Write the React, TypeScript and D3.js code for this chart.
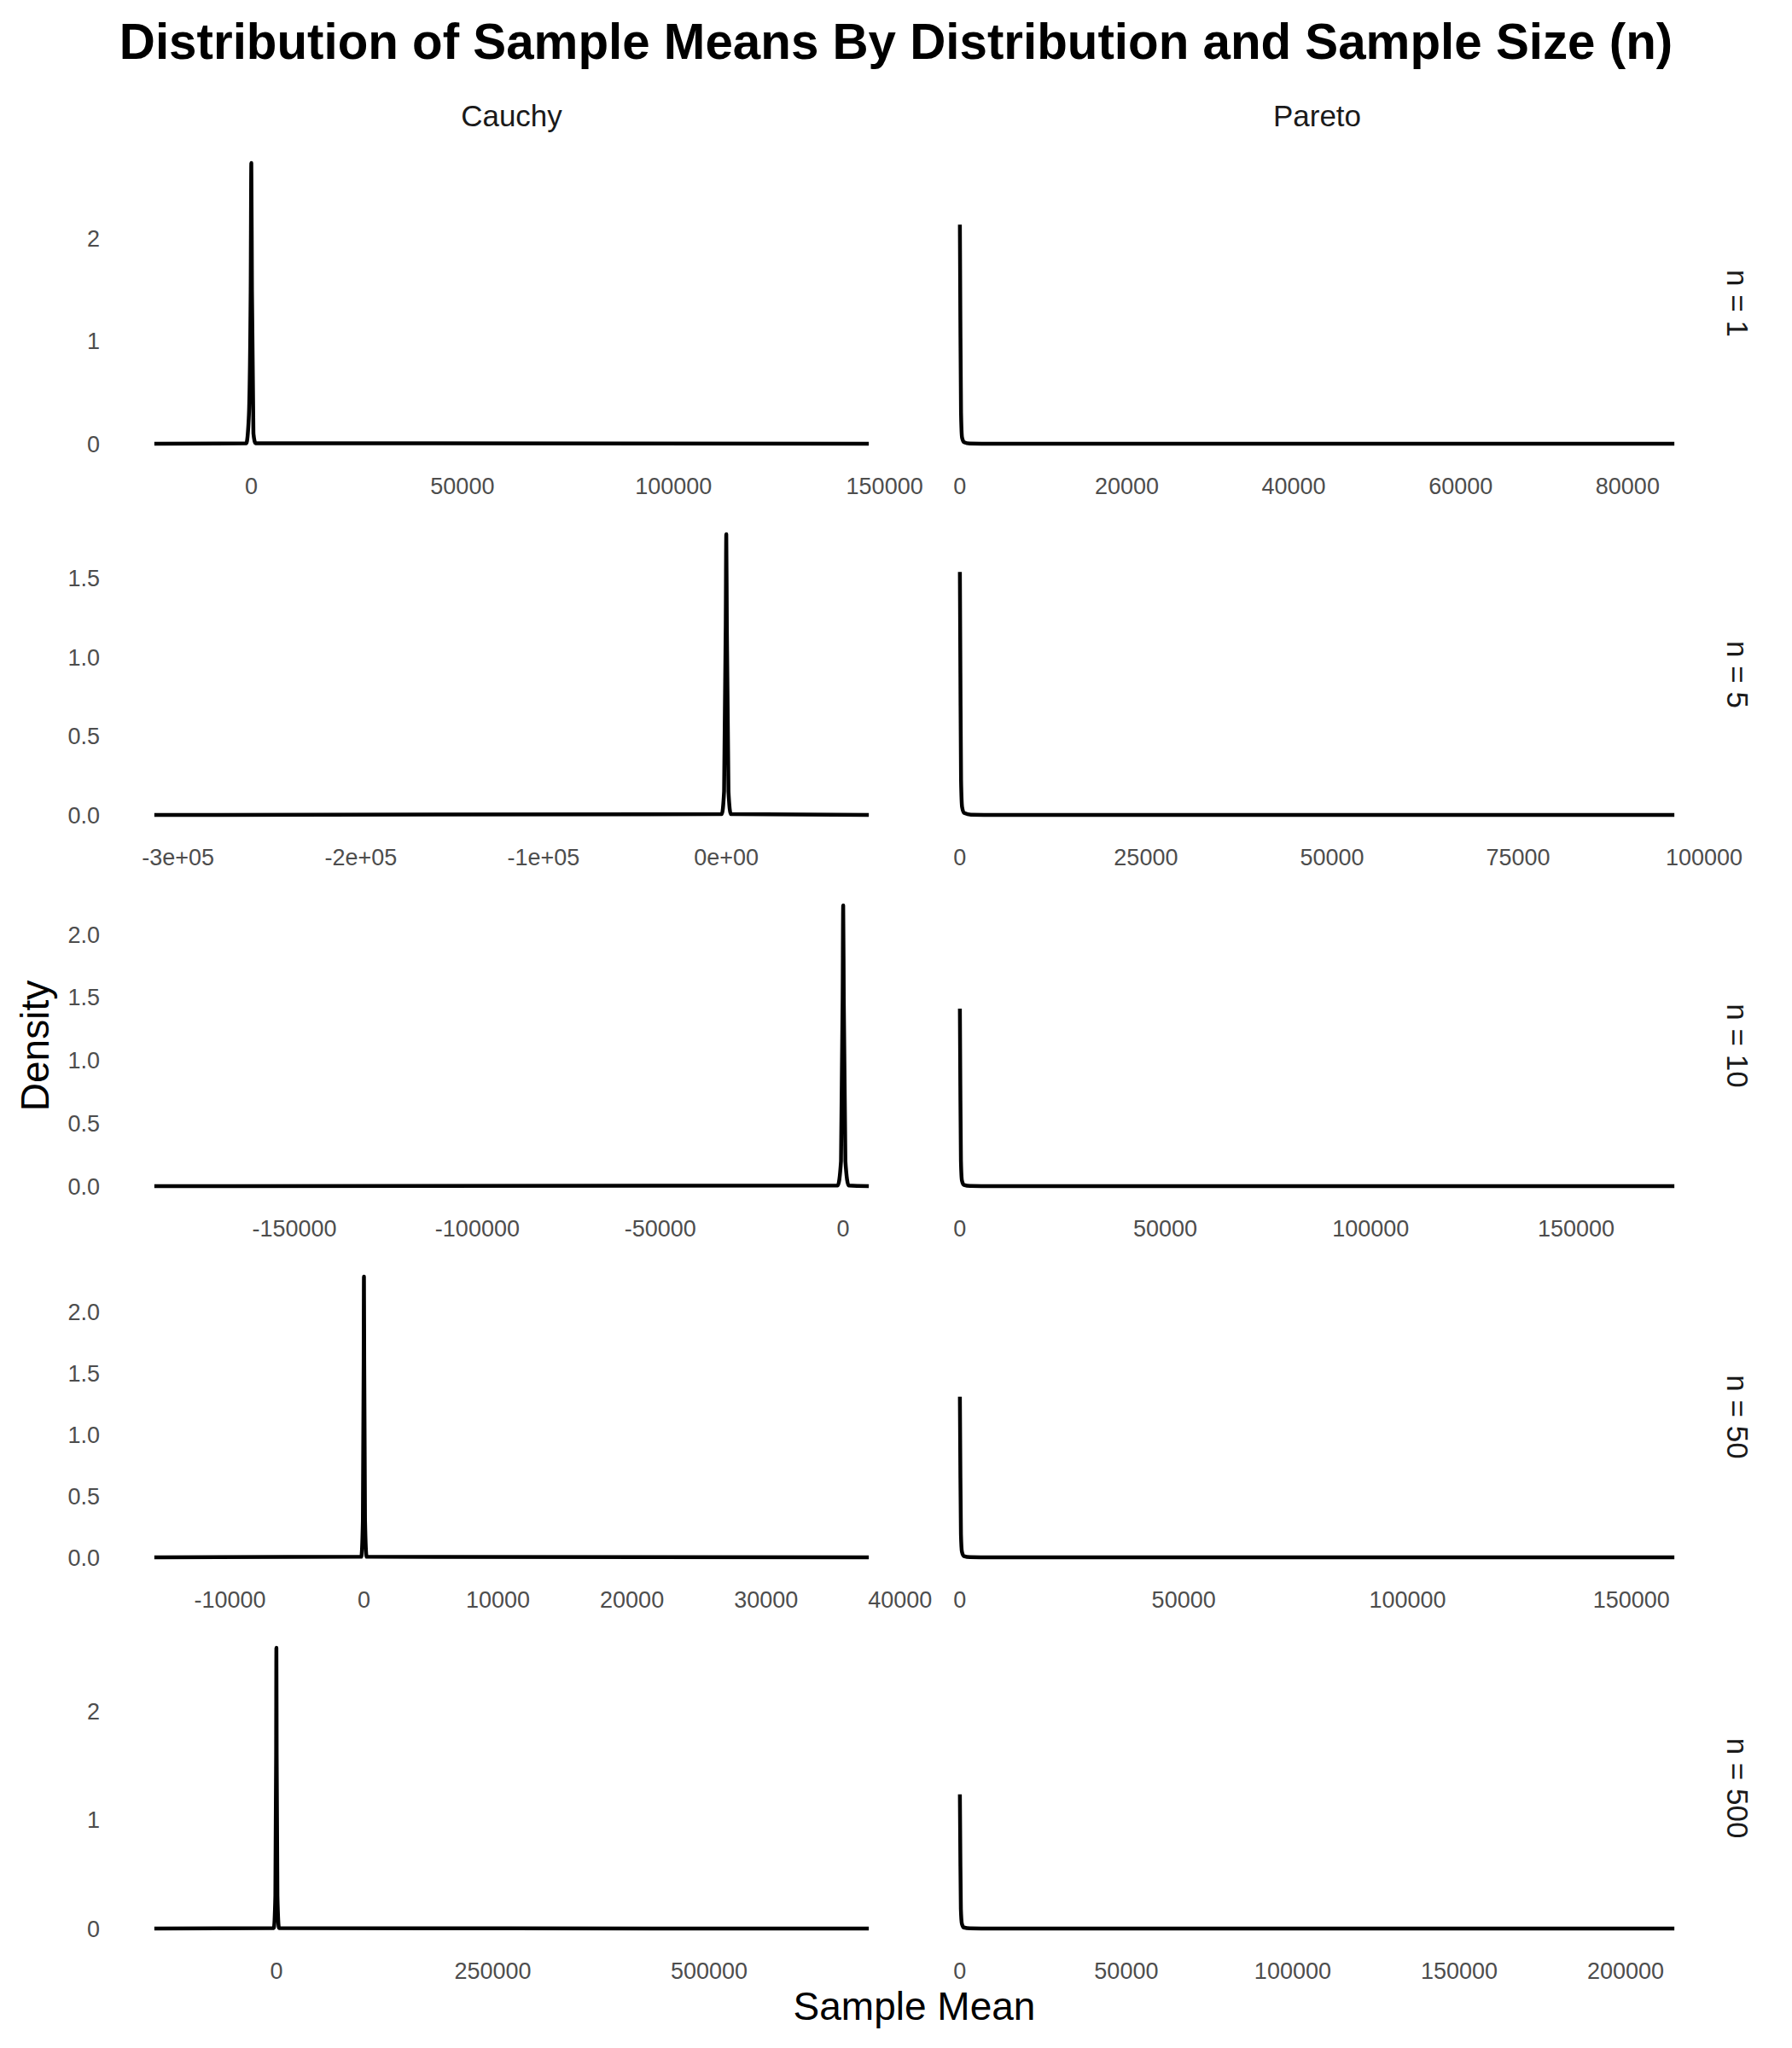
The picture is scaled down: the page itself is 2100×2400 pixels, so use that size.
import React from "react";
import * as d3 from "d3";

// ---------- data ----------
const distributions = ["Cauchy", "Pareto"];
const sampleSizes = ["n = 1", "n = 5", "n = 10", "n = 50", "n = 500"];

// density curves [sample mean, density]
const cauchyN1 = [[-22970, 0], [-1200, 0.005], [-600, 0.25], [-150, 1.5], [0, 2.73], [150, 1.5], [500, 0.1], [1000, 0.005], [146260, 0]];
const cauchyN5 = [[-313000, 0], [-2500, 0.005], [-1200, 0.15], [-300, 1.2], [0, 1.78], [300, 1.2], [1200, 0.15], [2500, 0.005], [78000, 0]];
const cauchyN10 = [[-188300, 0], [-1500, 0.005], [-600, 0.2], [-150, 1.5], [0, 2.23], [150, 1.5], [600, 0.2], [1500, 0.005], [7000, 0]];
const cauchyN50 = [[-15640, 0], [-200, 0.005], [-80, 0.3], [-20, 1.6], [0, 2.29], [20, 1.6], [80, 0.3], [200, 0.005], [37670, 0]];
const cauchyN500 = [[-141000, 0], [-3000, 0.005], [-1200, 0.3], [-300, 1.6], [0, 2.58], [300, 1.6], [1200, 0.3], [3000, 0.005], [684400, 0]];

const paretoN1 = [[1, 2.13], [60, 1.2], [140, 0.3], [260, 0.06], [500, 0.015], [1200, 0.003], [4000, 0.0004], [85600, 0]];
const paretoN5 = [[1, 1.54], [70, 0.9], [160, 0.22], [300, 0.05], [600, 0.012], [1500, 0.002], [5000, 0.0003], [96000, 0]];
const paretoN10 = [[1, 1.41], [110, 0.8], [260, 0.2], [500, 0.045], [1000, 0.01], [2500, 0.002], [8000, 0.0003], [173900, 0]];
const paretoN50 = [[1, 1.31], [100, 0.75], [240, 0.19], [460, 0.045], [900, 0.01], [2300, 0.002], [7000, 0.0003], [159600, 0]];
const paretoN500 = [[1, 1.234], [130, 0.7], [300, 0.18], [600, 0.045], [1200, 0.01], [3000, 0.002], [9000, 0.0003], [214650, 0]];

// x tick values & labels
const cauchyTicksN1 = [0, 50000, 100000, 150000];
const cauchyTickLabelsN1 = ["0", "50000", "100000", "150000"];
const cauchyTicksN5 = [-300000, -200000, -100000, 0];
const cauchyTickLabelsN5 = ["-3e+05", "-2e+05", "-1e+05", "0e+00"];
const cauchyTicksN10 = [-150000, -100000, -50000, 0];
const cauchyTickLabelsN10 = ["-150000", "-100000", "-50000", "0"];
const cauchyTicksN50 = [-10000, 0, 10000, 20000, 30000, 40000];
const cauchyTickLabelsN50 = ["-10000", "0", "10000", "20000", "30000", "40000"];
const cauchyTicksN500 = [0, 250000, 500000];
const cauchyTickLabelsN500 = ["0", "250000", "500000"];

const paretoTicksN1 = [0, 20000, 40000, 60000, 80000];
const paretoTickLabelsN1 = ["0", "20000", "40000", "60000", "80000"];
const paretoTicksN5 = [0, 25000, 50000, 75000, 100000];
const paretoTickLabelsN5 = ["0", "25000", "50000", "75000", "100000"];
const paretoTicksN10 = [0, 50000, 100000, 150000];
const paretoTickLabelsN10 = ["0", "50000", "100000", "150000"];
const paretoTicksN50 = [0, 50000, 100000, 150000];
const paretoTickLabelsN50 = ["0", "50000", "100000", "150000"];
const paretoTicksN500 = [0, 50000, 100000, 150000, 200000];
const paretoTickLabelsN500 = ["0", "50000", "100000", "150000", "200000"];

// y ticks per row
const yTicksN1 = [0, 1, 2];
const yTickLabelsN1 = ["0", "1", "2"];
const yTicksN5 = [0, 0.5, 1, 1.5];
const yTickLabelsN5 = ["0.0", "0.5", "1.0", "1.5"];
const yTicksN10 = [0, 0.5, 1, 1.5, 2];
const yTickLabelsN10 = ["0.0", "0.5", "1.0", "1.5", "2.0"];
const yTicksN50 = [0, 0.5, 1, 1.5, 2];
const yTickLabelsN50 = ["0.0", "0.5", "1.0", "1.5", "2.0"];
const yTicksN500 = [0, 1, 2];
const yTickLabelsN500 = ["0", "1", "2"];

// ---------- assembly ----------
const curves = [
  [cauchyN1, paretoN1],
  [cauchyN5, paretoN5],
  [cauchyN10, paretoN10],
  [cauchyN50, paretoN50],
  [cauchyN500, paretoN500],
];
const xTicks = [
  [[cauchyTicksN1, cauchyTickLabelsN1], [paretoTicksN1, paretoTickLabelsN1]],
  [[cauchyTicksN5, cauchyTickLabelsN5], [paretoTicksN5, paretoTickLabelsN5]],
  [[cauchyTicksN10, cauchyTickLabelsN10], [paretoTicksN10, paretoTickLabelsN10]],
  [[cauchyTicksN50, cauchyTickLabelsN50], [paretoTicksN50, paretoTickLabelsN50]],
  [[cauchyTicksN500, cauchyTickLabelsN500], [paretoTicksN500, paretoTickLabelsN500]],
];
const yTicks = [
  [yTicksN1, yTickLabelsN1],
  [yTicksN5, yTickLabelsN5],
  [yTicksN10, yTickLabelsN10],
  [yTicksN50, yTickLabelsN50],
  [yTicksN500, yTickLabelsN500],
];

// layout
const W = 2100;
const H = 2400;
const colLeft = [139, 1083];
const panelW = 921;
const rowTop0 = 174.5;
const rowPitch = 435;
const panelH = 362;
const FONT = "'Liberation Sans', Arial, Helvetica, sans-serif";

function expand(lo: number, hi: number): [number, number] {
  const r = hi - lo;
  return [lo - 0.05 * r, hi + 0.05 * r];
}

export default function App() {
  const panels: any[] = [];
  curves.forEach((rowCurves, r) => {
    const top = rowTop0 + r * rowPitch;
    const bottom = top + panelH;
    const yMax = d3.max(rowCurves.flat(), (d: any) => d[1]) as number;
    const y = d3.scaleLinear().domain(expand(0, yMax)).range([bottom, top]);
    rowCurves.forEach((pts, c) => {
      const left = colLeft[c];
      const ext = d3.extent(pts, (d: any) => d[0]) as [number, number];
      const x = d3.scaleLinear().domain(expand(ext[0], ext[1])).range([left, left + panelW]);
      const line = d3
        .line<any>()
        .x((d) => x(d[0]))
        .y((d) => y(d[1]))
        .curve(d3.curveMonotoneX);
      const [tv, tl] = xTicks[r][c];
      panels.push(
        <g key={`p-${r}-${c}`}>
          <path d={line(pts as any) || ""} fill="none" stroke="#000" strokeWidth={4.5} strokeLinejoin="round" strokeLinecap="butt" />
          {tv.map((v: number, i: number) => (
            <text key={i} x={x(v)} y={bottom + 42} textAnchor="middle" fontSize={27} fill="#4D4D4D" fontFamily={FONT}>
              {tl[i]}
            </text>
          ))}
        </g>
      );
      if (c === 0) {
        const [yv, yl] = yTicks[r];
        panels.push(
          <g key={`y-${r}`}>
            {yv.map((v: number, i: number) => (
              <text key={i} x={117} y={y(v)} dy="0.36em" textAnchor="end" fontSize={27} fill="#4D4D4D" fontFamily={FONT}>
                {yl[i]}
              </text>
            ))}
          </g>
        );
      }
    });
    const cy = (top + bottom) / 2;
    panels.push(
      <text key={`s-${r}`} transform={`translate(2024,${cy}) rotate(90)`} textAnchor="middle" fontSize={35} fill="#1A1A1A" fontFamily={FONT}>
        {sampleSizes[r]}
      </text>
    );
  });

  return (
    <svg width={W} height={H} style={{ position: "absolute", left: 0, top: 0, background: "#fff" }}>
      <rect x={0} y={0} width={W} height={H} fill="#fff" />
      <text x={1050} y={69} textAnchor="middle" fontSize={58.3} fontWeight="bold" fill="#000" fontFamily={FONT}>
        Distribution of Sample Means By Distribution and Sample Size (n)
      </text>
      {distributions.map((d, c) => (
        <text key={d} x={colLeft[c] + panelW / 2} y={148} textAnchor="middle" fontSize={35} fill="#1A1A1A" fontFamily={FONT}>
          {d}
        </text>
      ))}
      {panels}
      <text transform={`translate(57,${rowTop0 + (4 * rowPitch + panelH) / 2}) rotate(-90)`} textAnchor="middle" fontSize={46} fill="#000" fontFamily={FONT}>
        Density
      </text>
      <text x={colLeft[0] + (colLeft[1] + panelW - colLeft[0]) / 2} y={2367} textAnchor="middle" fontSize={46} fill="#000" fontFamily={FONT}>
        Sample Mean
      </text>
    </svg>
  );
}
